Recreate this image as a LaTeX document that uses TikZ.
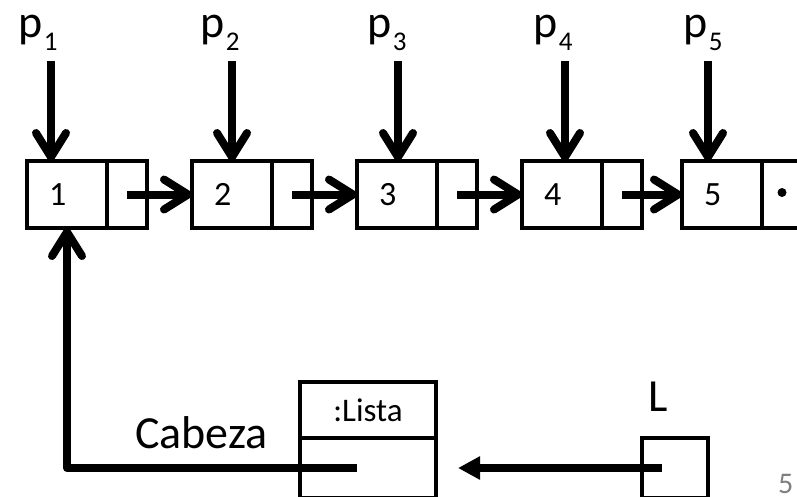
\documentclass[tikz,border=0pt]{standalone}
\usepackage{fontspec}
\setmainfont{Carlito}
\usepackage{xcolor}
\usepackage{tikz}
\usetikzlibrary{arrows.meta}

% nombre de puntero con subindice
\newcommand{\pvar}[1]{p\kern1.5pt\raisebox{-13pt}{\fontsize{27}{27}\selectfont #1}}

\begin{document}
\begin{tikzpicture}[x=1pt,y=-1pt]
	\tikzstyle{cell}=[rectangle,draw=black,line width=4pt,inner sep=0pt,outer sep=0pt,minimum height=67pt]
	\tikzstyle{dato}=[cell,minimum width=80pt,text width=36pt,align=left,font=\fontsize{34}{34}\selectfont]
	\tikzstyle{sig}=[cell,minimum width=40pt]
	\tikzstyle{etiq}=[anchor=base west,inner sep=0pt,font=\fontsize{46}{46}\selectfont]
	\tikzstyle{flecha}=[line width=8pt,line join=round,-{Straight Barb[length=24pt,width=30pt,round]}]
	\tikzstyle{flechaL}=[line width=8pt,-{Triangle[length=22pt,width=22pt]}]

	\useasboundingbox (0,0) rectangle (797,496);
	\clip (0,0) rectangle (797,496);

	% nodos de la lista
	\node[dato](d1) at (67,194.5){1};
	\node[sig](n1) at (127,194.5){};
	\node[dato](d2) at (232,194.5){2};
	\node[sig](n2) at (292,194.5){};
	\node[dato](d3) at (397,194.5){3};
	\node[sig](n3) at (457,194.5){};
	\node[dato](d4) at (562,194.5){4};
	\node[sig](n4) at (622,194.5){};
	\node[dato](d5) at (722,194.5){5};
	\node[sig](n5) at (782,194.5){};
	\fill ([yshift=2pt]n5.center) circle (4.5pt);

	% punteros p1..p5
	\node[etiq](pl1) at (18,37){\pvar{1}};
	\node[etiq](pl2) at (200,37){\pvar{2}};
	\node[etiq](pl3) at (367,37){\pvar{3}};
	\node[etiq](pl4) at (533,37){\pvar{4}};
	\node[etiq](pl5) at (683,37){\pvar{5}};
	\coordinate (t1) at (51,61);
	\coordinate (t2) at (232,61);
	\coordinate (t3) at (398,61);
	\coordinate (t4) at (565,61);
	\coordinate (t5) at (708,61);
	\path[flecha]
		(t1) edge (t1 |- d1.north)
		(t2) edge (t2 |- d2.north)
		(t3) edge (t3 |- d3.north)
		(t4) edge (t4 |- d4.north)
		(t5) edge (t5 |- d5.north);

	% enlaces siguiente
	\path[flecha]
		(n1.center) edge (d2.west)
		(n2.center) edge (d3.west)
		(n3.center) edge (d4.west)
		(n4.center) edge (d5.west);

	% objeto Lista y variable L
	\node[cell,minimum width=136pt,minimum height=56pt,font=\fontsize{33}{33}\selectfont](lst) at (368,410){:Lista};
	\node[cell,minimum width=136pt,minimum height=60pt](cab) at (368,468){};
	\node[cell,minimum width=66pt,minimum height=60pt](var) at (675,468){};
	\node[etiq](lblCab) at (135,448){Cabeza};
	\node[etiq,anchor=base](lblL) at (658,411){L};

	\draw[flecha] ([xshift=-11pt]cab.center) -| (d1.south);
	\draw[flechaL] ([xshift=-13pt]var.center) -- ([xshift=22pt]cab.east);

	\node[anchor=base west,inner sep=0pt,text=gray,font=\fontsize{30}{30}\selectfont](pag) at (778,493){5};
\end{tikzpicture}
\end{document}
